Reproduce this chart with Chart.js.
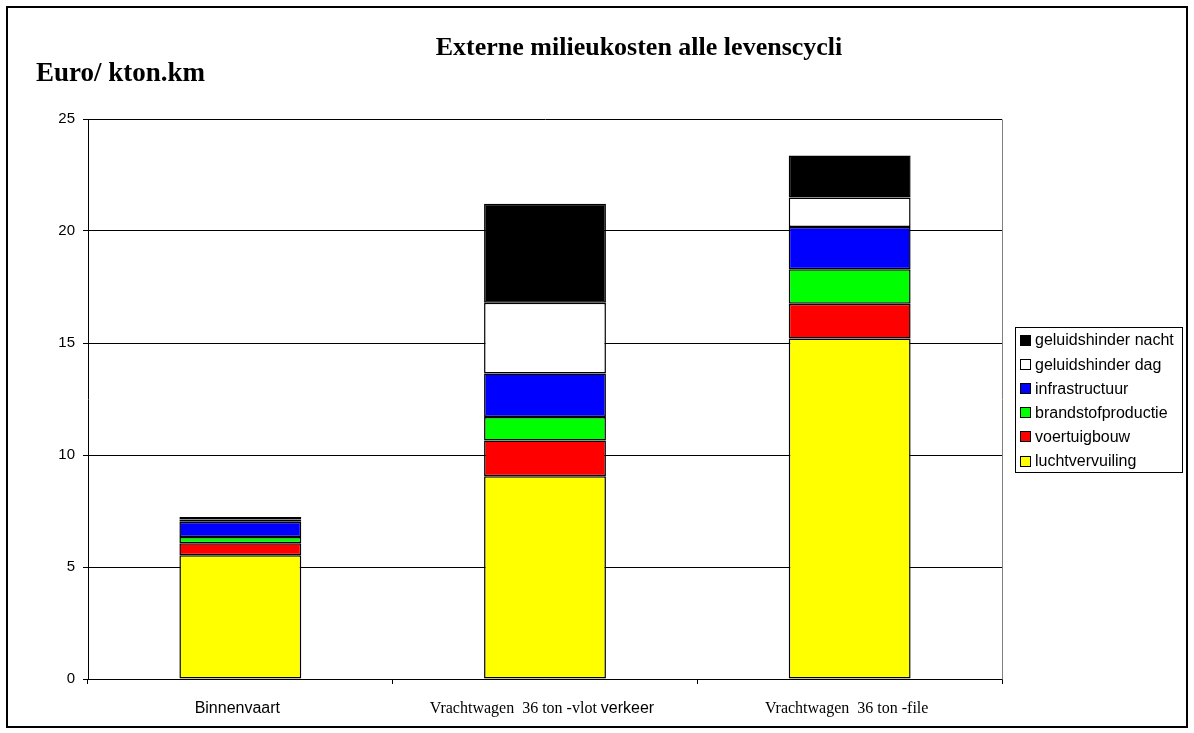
<!DOCTYPE html>
<html>
<head>
<meta charset="utf-8">
<style>
  html, body { margin: 0; padding: 0; background: #ffffff; }
  #wrap { width: 1194px; height: 733px; position: relative; }
</style>
<script src="https://cdn.jsdelivr.net/npm/chart.js@4/dist/chart.umd.min.js"></script>
</head>
<body>
<div id="wrap"><canvas id="c" width="1194" height="733"></canvas></div>
<script>
// Categories and the pieces each axis label is set in (serif / sans runs)
const categories = ['Binnenvaart', 'Vrachtwagen  36 ton -vlot verkeer', 'Vrachtwagen  36 ton -file'];
const categoryLabelRuns = [
  [['sans', 'Binnenvaart']],
  [['serif', 'Vrachtwagen  36 ton -vlot '], ['sans', 'verkeer']],
  [['serif', 'Vrachtwagen  36 ton -file']]
];

// Cost components, Euro per kton.km (stacked bottom to top)
const luchtvervuiling    = [5.53, 9.05, 15.20];
const voertuigbouw       = [0.53, 1.60, 1.55];
const brandstofproductie = [0.28, 1.05, 1.54];
const infrastructuur     = [0.68, 1.94, 1.89];
const geluidshinderDag   = [0.10, 3.16, 1.31];
const geluidshinderNacht = [0.11, 4.42, 1.88];

const seriesNames  = ['luchtvervuiling', 'voertuigbouw', 'brandstofproductie', 'infrastructuur', 'geluidshinder dag', 'geluidshinder nacht'];
const seriesValues = [luchtvervuiling, voertuigbouw, brandstofproductie, infrastructuur, geluidshinderDag, geluidshinderNacht];
const seriesColors = ['#FFFF00', '#FF0000', '#00FF00', '#0000FF', '#FFFFFF', '#000000'];

const yMin = 0, yMax = 25, yStep = 5;
const chartTitle = 'Externe milieukosten alle levenscycli';
const unitLabel = 'Euro/ kton.km';

const SANS = '"Liberation Sans", Arial, sans-serif';
const SERIF = '"Liberation Serif", "Times New Roman", serif';

const datasets = seriesNames.map((name, i) => ({
  label: name,
  data: seriesValues[i],
  backgroundColor: seriesColors[i],
  borderColor: '#000000',
  borderWidth: 1.5,
  borderSkipped: false,
  barPercentage: 0.4,
  categoryPercentage: 1.0
}));

// Frame, titles, axis labels and legend box
const decor = {
  id: 'decor',
  beforeDatasetsDraw(chart) {
    const ctx = chart.ctx, a = chart.chartArea;
    ctx.save();
    ctx.strokeStyle = '#808080';
    ctx.lineWidth = 1;
    ctx.beginPath();
    ctx.moveTo(Math.round(a.right) + 0.5, Math.round(a.top) + 0.5);
    ctx.lineTo(Math.round(a.right) + 0.5, Math.round(a.bottom) + 0.5);
    ctx.stroke();
    ctx.restore();
  },
  afterDraw(chart) {
    const ctx = chart.ctx;
    ctx.save();

    // outer frame
    ctx.strokeStyle = '#000000';
    ctx.lineWidth = 2;
    ctx.strokeRect(7, 7, 1180, 720);

    // titles
    ctx.fillStyle = '#000000';
    ctx.textBaseline = 'alphabetic';
    ctx.font = 'bold 26px ' + SERIF;
    ctx.textAlign = 'center';
    ctx.fillText(chartTitle, 639, 55);
    ctx.font = 'bold 27px ' + SERIF;
    ctx.textAlign = 'left';
    ctx.fillText(unitLabel, 36, 81);

    // category labels under the axis
    const xs = chart.scales.x;
    categoryLabelRuns.forEach((runs, i) => {
      const cx = xs.getPixelForValue(i);
      const fontOf = k => (k === 'sans' ? '16px ' + SANS : '16px ' + SERIF);
      let total = 0;
      runs.forEach(([k, t]) => { ctx.font = fontOf(k); total += ctx.measureText(t).width; });
      let x = cx - total / 2 - 3;
      ctx.textAlign = 'left';
      runs.forEach(([k, t]) => {
        ctx.font = fontOf(k);
        ctx.fillText(t, x, 713);
        x += ctx.measureText(t).width;
      });
    });

    // legend
    const bx = 1015, by = 327, bw = 167, bh = 145;
    ctx.fillStyle = '#ffffff';
    ctx.fillRect(bx, by, bw, bh);
    ctx.lineWidth = 1;
    ctx.strokeStyle = '#000000';
    ctx.strokeRect(bx + 0.5, by + 0.5, bw, bh);
    ctx.font = '16px ' + SANS;
    ctx.textBaseline = 'middle';
    const order = chart.data.datasets.map((d, i) => i).reverse();
    order.forEach((di, row) => {
      const ds = chart.data.datasets[di];
      const cy = 340 + row * 24.1;
      ctx.fillStyle = ds.backgroundColor;
      ctx.fillRect(1020, Math.round(cy) - 5, 11, 11);
      ctx.strokeStyle = '#000000';
      ctx.strokeRect(1020.5, Math.round(cy) - 4.5, 10, 10);
      ctx.fillStyle = '#000000';
      ctx.fillText(ds.label, 1035, cy + 1);
    });

    ctx.restore();
  }
};

new Chart(document.getElementById('c'), {
  type: 'bar',
  data: { labels: categories, datasets },
  plugins: [decor],
  options: {
    responsive: false,
    animation: false,
    layout: { padding: { left: 0, right: 192, top: 119, bottom: 0 } },
    plugins: { legend: { display: false }, tooltip: { enabled: false }, title: { display: false } },
    scales: {
      x: {
        stacked: true,
        offset: true,
        afterFit(s) { s.height = 54; },
        grid: { display: true, drawOnChartArea: false, drawTicks: true, tickLength: 5, color: '#000000', offset: true },
        border: { display: true, color: '#000000', width: 1 },
        ticks: { display: false }
      },
      y: {
        stacked: true,
        min: yMin,
        max: yMax,
        afterFit(s) { s.width = 88; },
        ticks: { stepSize: yStep, color: '#000000', font: { family: SANS, size: 15 }, padding: 8 },
        grid: { color: '#000000', lineWidth: 1, tickLength: 5, drawTicks: true },
        border: { display: true, color: '#000000', width: 1 }
      }
    }
  }
});
</script>
</body>
</html>
